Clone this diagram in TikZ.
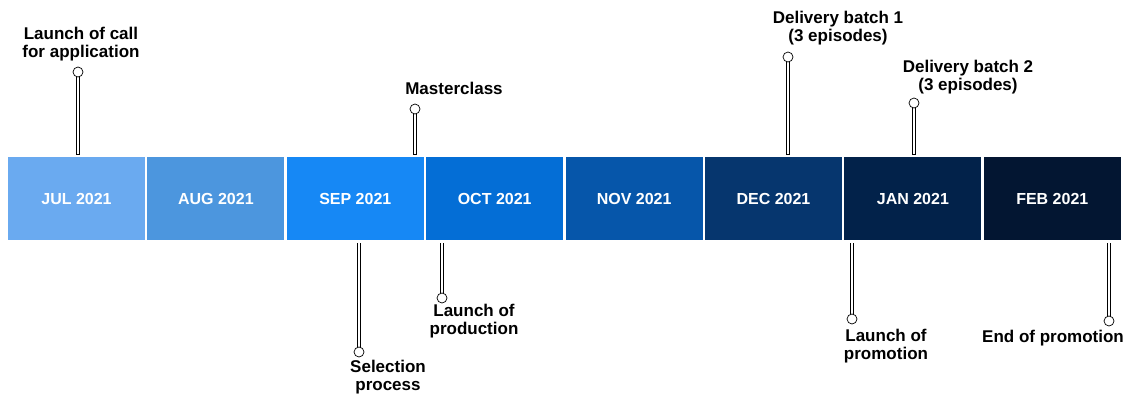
\documentclass[tikz,border=0pt]{standalone}
\usepackage{fontspec}
\setmainfont{Liberation Sans}
\usetikzlibrary{backgrounds}

\definecolor{cjul}{RGB}{106,170,240}
\definecolor{caug}{RGB}{76,150,222}
\definecolor{csep}{RGB}{22,136,245}
\definecolor{coct}{RGB}{4,110,214}
\definecolor{cnov}{RGB}{6,86,170}
\definecolor{cdec}{RGB}{6,54,110}
\definecolor{cjan}{RGB}{2,34,74}
\definecolor{cfeb}{RGB}{3,22,50}

\begin{document}
\begin{tikzpicture}[x=1pt, y=-1pt, line width=0.7pt,
    month/.style={minimum width=137pt, minimum height=83pt, inner sep=0pt,
                  text=white, font=\bfseries\fontsize{16}{18}\selectfont},
    dot/.style={circle, draw, fill=white, minimum size=10pt, inner sep=0pt},
    stick/.style={draw, double=white, double distance=2.6pt, line cap=rect},
    event/.style={align=center, font=\bfseries\fontsize{17}{18}\selectfont}]
    \useasboundingbox (0,0) rectangle (1126,397);
    % barra dos meses
    \foreach \name/\lbl [count=\i from 0] in {jul/JUL 2021, aug/AUG 2021, sep/SEP 2021,
        oct/OCT 2021, nov/NOV 2021, dec/DEC 2021, jan/JAN 2021, feb/FEB 2021}
        \node[month, fill=c\name] (\name) at (76.5+139.4*\i, 198.75) {\lbl};
    % marcos acima da barra
    \node[dot] (callpin)   at (78,72)  {};
    \node[dot] (masterpin) at (415,109) {};
    \node[dot] (batchapin) at (788,57) {};
    \node[dot] (batchbpin) at (914,103) {};
    \node[event] (calltext)   at (81,44)    {Launch of call\\for application};
    \node[event] (mastertext) at (454,88)   {Masterclass};
    \node[event] (batchatext) at (838,28.5) {Delivery batch 1\\(3 episodes)};
    \node[event] (batchbtext) at (968,77.5) {Delivery batch 2\\(3 episodes)};
    % marcos abaixo da barra
    \node[dot] (selpin)   at (359,352) {};
    \node[dot] (prodpin)  at (442,298) {};
    \node[dot] (promopin) at (852,319) {};
    \node[dot] (endpin)   at (1109,321) {};
    \node[event] (seltext)   at (388,377.5) {Selection\\process};
    \node[event] (prodtext)  at (474,321.5) {Launch of\\production};
    \node[event] (promotext) at (886,346)   {Launch of\\promotion};
    \node[event] (endtext)   at (1053,338)  {End of promotion};
    % hastes
    \begin{scope}[on background layer]
        \foreach \p/\m in {callpin/jul, masterpin/sep, batchapin/dec, batchbpin/jan}
            \draw[stick, shorten >=4pt] (\p.center) -- (\p |- \m.north);
        \foreach \p/\m in {selpin/sep, prodpin/oct, promopin/jan, endpin/feb}
            \draw[stick, shorten >=4pt] (\p.center) -- (\p |- \m.south);
    \end{scope}
\end{tikzpicture}
\end{document}
